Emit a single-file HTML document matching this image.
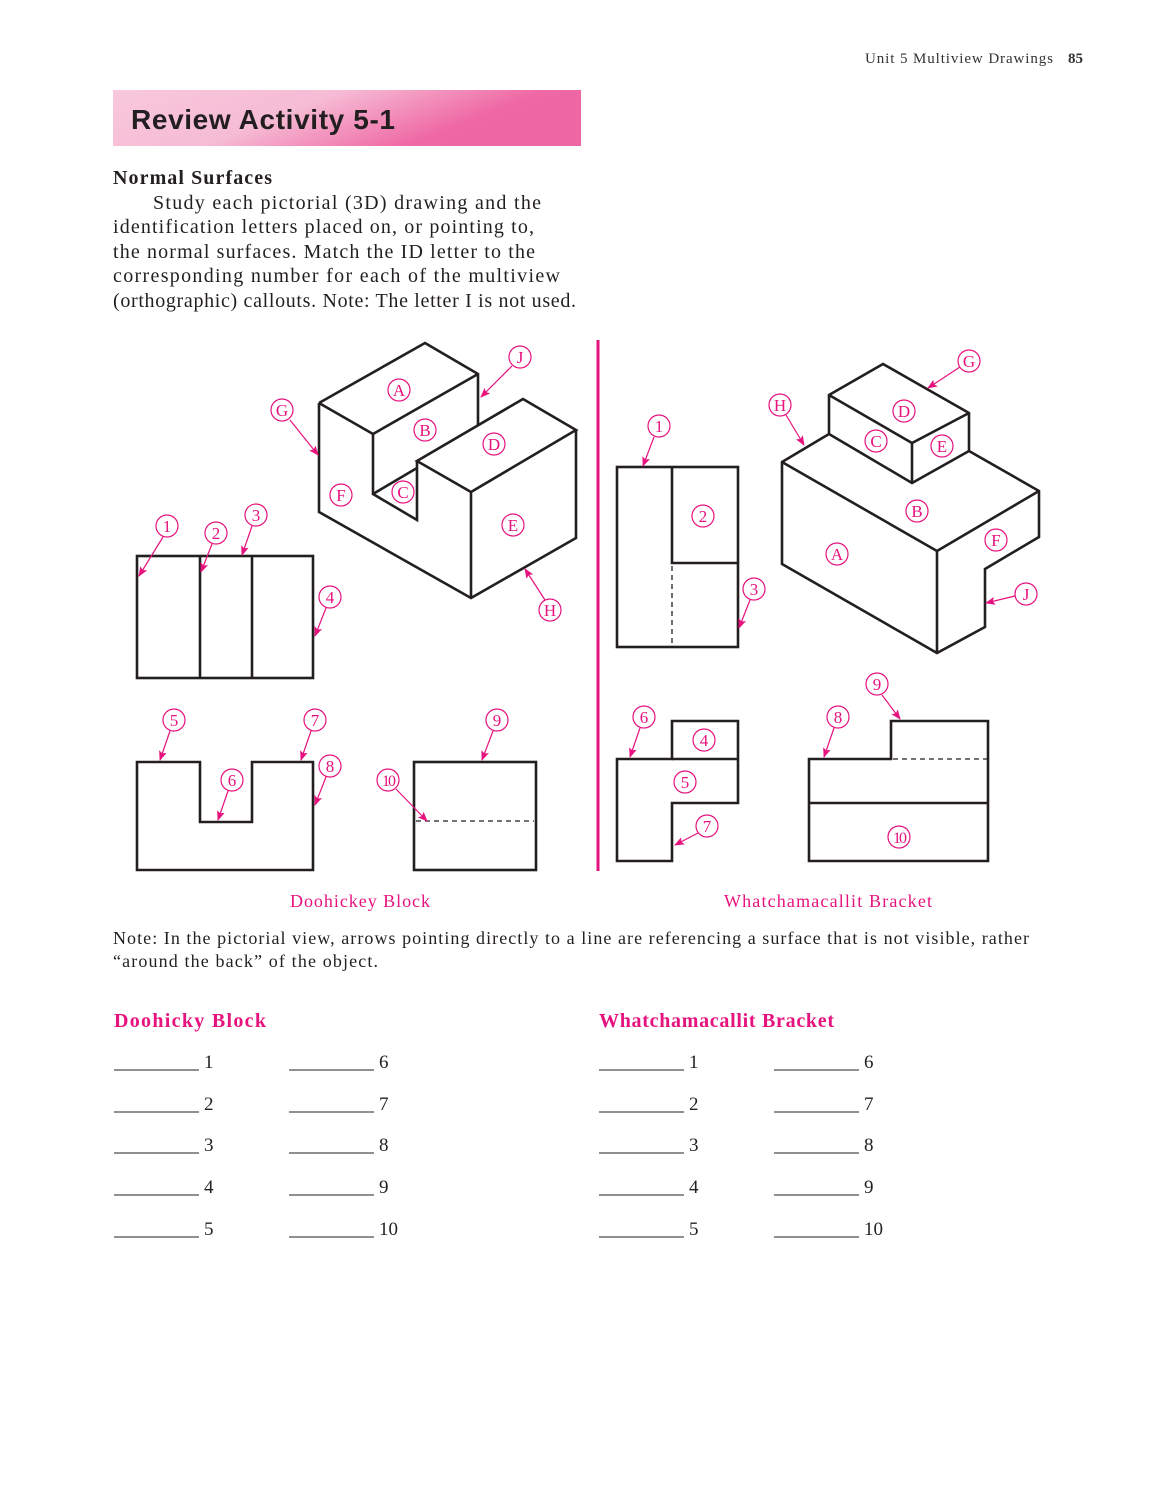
<!DOCTYPE html>
<html><head><meta charset="utf-8"><style>
html,body{margin:0;padding:0;background:#fff}
svg{display:block}
.s{font-family:"Liberation Serif",serif}
.m{fill:#e6127e}
.c{fill:none;stroke:#e6127e;stroke-width:1.2}
.k{fill:none;stroke:#231f20;stroke-width:2.6;stroke-linejoin:miter}
.d{fill:none;stroke:#231f20;stroke-width:1.3;stroke-dasharray:5,4}
.a{stroke:#e6127e;stroke-width:1.2}
.l{font-family:"Liberation Serif",serif;font-size:17px;fill:#e6127e;text-anchor:middle}
</style></head><body>
<svg width="1156" height="1497" viewBox="0 0 1156 1497" xmlns="http://www.w3.org/2000/svg">
<defs>
<linearGradient id="g" x1="0" y1="0" x2="1" y2="0.3">
<stop offset="0" stop-color="#f8c8dc"/><stop offset="0.45" stop-color="#f6bcd5"/><stop offset="0.85" stop-color="#ef68a4"/><stop offset="1" stop-color="#ee66a3"/></linearGradient>
<marker id="ar" markerWidth="10" markerHeight="8" refX="9" refY="4" orient="auto" markerUnits="userSpaceOnUse"><path d="M0,0 L10,4 L0,8 L2,4z" fill="#e6127e"/></marker>
</defs>
<text x="865" y="63" class="s" font-size="15" fill="#333" textLength="188">Unit 5  Multiview Drawings</text>
<text x="1083" y="63" class="s" font-size="15" fill="#333" font-weight="bold" text-anchor="end">85</text>
<rect x="113" y="90" width="468" height="56" fill="url(#g)"/>
<text x="131" y="129" font-family="Liberation Sans,sans-serif" font-weight="bold" font-size="28" fill="#231f20" textLength="264">Review Activity 5-1</text>
<g class="s" font-size="20" fill="#231f20">
<text x="113" y="184" font-weight="bold" textLength="159">Normal Surfaces</text>
<text x="153" y="209" textLength="388">Study each pictorial (3D) drawing and the</text>
<text x="113" y="233" textLength="421">identification letters placed on, or pointing to,</text>
<text x="113" y="258" textLength="422">the normal surfaces. Match the ID letter to the</text>
<text x="113" y="282" textLength="447">corresponding number for each of the multiview</text>
<text x="113" y="307" textLength="463">(orthographic) callouts. Note: The letter I is not used.</text>
</g>
<line x1="598" y1="340" x2="598" y2="871" stroke="#e6127e" stroke-width="3"/>
<g class="k">
<path d="M319,403 L425,343 L478,374 L478,425"/>
<path d="M417,461 L523,399 L576,430 L471,492 Z"/>
<path d="M576,430 L576,538 L471,598 L319,512 L319,403"/>
<path d="M471,492 L471,598"/>
<path d="M319,403 L373,434 L478,374"/>
<path d="M373,434 L373,494 L417,520 L417,461"/>
<path d="M373,494 L417,468"/>
</g>
<g class="k"><rect x="137" y="556" width="176" height="122"/><line x1="200" y1="556" x2="200" y2="678"/><line x1="252" y1="556" x2="252" y2="678"/></g>
<g class="k"><path d="M137,762 L200,762 L200,822 L252,822 L252,762 L313,762 L313,870 L137,870 Z"/><rect x="414" y="762" width="122" height="108"/></g>
<line x1="416" y1="821" x2="534" y2="821" class="d"/>
<g class="k"><rect x="617" y="467" width="121" height="180"/><path d="M672,467 L672,563 L738,563"/></g>
<line x1="672" y1="566" x2="672" y2="646" class="d"/>
<g class="k">
<path d="M782,462 L829,434 L829,395 L883,364 L969,413 L969,451 L1039,491 L1039,537 L985,569 L985,627 L937,653 L782,564 Z"/>
<path d="M782,462 L937,551 L1039,491"/>
<path d="M937,551 L937,653"/>
<path d="M829,395 L912,443 L969,413"/>
<path d="M912,443 L912,483"/>
<path d="M829,434 L912,483 L969,451"/>
</g>
<g class="k">
<path d="M617,759 L672,759 L672,721 L738,721 L738,803 L672,803 L672,861 L617,861 Z"/>
<line x1="672" y1="759" x2="738" y2="759"/>
<path d="M809,759 L891,759 L891,721 L988,721 L988,861 L809,861 Z"/>
<line x1="809" y1="803" x2="988" y2="803"/>
</g>
<line x1="893" y1="759" x2="987" y2="759" class="d"/>
<g class="a" marker-end="url(#ar)">
<line x1="290" y1="420" x2="318" y2="455"/>
<line x1="512" y1="366" x2="481" y2="397"/>
<line x1="545" y1="600" x2="525" y2="569"/>
<line x1="163" y1="537" x2="139" y2="576"/>
<line x1="212" y1="544" x2="201" y2="572"/>
<line x1="252" y1="526" x2="242" y2="555"/>
<line x1="326" y1="608" x2="315" y2="636"/>
<line x1="170" y1="731" x2="160" y2="760"/>
<line x1="311" y1="731" x2="301" y2="760"/>
<line x1="228" y1="791" x2="218" y2="820"/>
<line x1="326" y1="777" x2="315" y2="805"/>
<line x1="493" y1="731" x2="482" y2="760"/>
<line x1="396" y1="789" x2="427" y2="821"/>
<line x1="654" y1="437" x2="643" y2="466"/>
<line x1="750" y1="600" x2="739" y2="628"/>
<line x1="960" y1="367" x2="928" y2="388"/>
<line x1="786" y1="415" x2="804" y2="445"/>
<line x1="1015" y1="596" x2="986" y2="603"/>
<line x1="640" y1="728" x2="630" y2="757"/>
<line x1="698" y1="833" x2="675" y2="845"/>
<line x1="834" y1="728" x2="824" y2="757"/>
<line x1="882" y1="695" x2="900" y2="719"/>
</g>
<g>
<g class="c">
<circle cx="399" cy="390" r="11"/><circle cx="425" cy="430" r="11"/><circle cx="494" cy="444" r="11"/><circle cx="403" cy="492" r="11"/><circle cx="341" cy="495" r="11"/><circle cx="513" cy="525" r="11"/><circle cx="282" cy="410" r="11"/><circle cx="520" cy="357" r="11"/><circle cx="550" cy="610" r="11"/>
<circle cx="167" cy="526" r="11"/><circle cx="216" cy="533" r="11"/><circle cx="256" cy="515" r="11"/><circle cx="330" cy="597" r="11"/>
<circle cx="174" cy="720" r="11"/><circle cx="315" cy="720" r="11"/><circle cx="232" cy="780" r="11"/><circle cx="330" cy="766" r="11"/><circle cx="497" cy="720" r="11"/><circle cx="388" cy="780" r="11"/>
<circle cx="659" cy="426" r="11"/><circle cx="703" cy="516" r="11"/><circle cx="754" cy="589" r="11"/>
<circle cx="969" cy="361" r="11"/><circle cx="780" cy="405" r="11"/><circle cx="904" cy="411" r="11"/><circle cx="876" cy="441" r="11"/><circle cx="942" cy="446" r="11"/><circle cx="917" cy="511" r="11"/><circle cx="837" cy="554" r="11"/><circle cx="996" cy="540" r="11"/><circle cx="1026" cy="594" r="11"/>
<circle cx="644" cy="717" r="11"/><circle cx="704" cy="740" r="11"/><circle cx="685" cy="782" r="11"/><circle cx="707" cy="826" r="11"/><circle cx="838" cy="717" r="11"/><circle cx="877" cy="684" r="11"/><circle cx="899" cy="837" r="11"/>
</g>
<g class="l">
<text x="399" y="396">A</text><text x="425" y="436">B</text><text x="494" y="450">D</text><text x="403" y="498">C</text><text x="341" y="501">F</text><text x="513" y="531">E</text><text x="282" y="416">G</text><text x="520" y="363">J</text><text x="550" y="616">H</text>
<text x="167" y="532">1</text><text x="216" y="539">2</text><text x="256" y="521">3</text><text x="330" y="603">4</text>
<text x="174" y="726">5</text><text x="315" y="726">7</text><text x="232" y="786">6</text><text x="330" y="772">8</text><text x="497" y="726">9</text><text x="388" y="786" font-size="16" letter-spacing="-2">10</text>
<text x="659" y="432">1</text><text x="703" y="522">2</text><text x="754" y="595">3</text>
<text x="969" y="367">G</text><text x="780" y="411">H</text><text x="904" y="417">D</text><text x="876" y="447">C</text><text x="942" y="452">E</text><text x="917" y="517">B</text><text x="837" y="560">A</text><text x="996" y="546">F</text><text x="1026" y="600">J</text>
<text x="644" y="723">6</text><text x="704" y="746">4</text><text x="685" y="788">5</text><text x="707" y="832">7</text><text x="838" y="723">8</text><text x="877" y="690">9</text><text x="899" y="843" font-size="16" letter-spacing="-2">10</text>
</g>
</g>
<g class="s" font-size="18">
<text x="290" y="907" class="m" textLength="140">Doohickey Block</text>
<text x="724" y="907" class="m" textLength="208">Whatchamacallit Bracket</text>
<text x="113" y="944" fill="#231f20" textLength="916">Note: In the pictorial view, arrows pointing directly to a line are referencing a surface that is not visible, rather</text>
<text x="113" y="967" fill="#231f20" textLength="265">“around the back” of the object.</text>
</g>
<g class="s" font-size="20" font-weight="bold">
<text x="114" y="1027" class="m" textLength="152">Doohicky Block</text>
<text x="599" y="1027" class="m" textLength="235">Whatchamacallit Bracket</text>
</g>
<g class="s" font-size="19" fill="#231f20">
<g stroke="#231f20" stroke-width="1">
<line x1="114" y1="1070" x2="199" y2="1070"/><line x1="289" y1="1070" x2="374" y2="1070"/><line x1="599" y1="1070" x2="684" y2="1070"/><line x1="774" y1="1070" x2="859" y2="1070"/>
<line x1="114" y1="1112" x2="199" y2="1112"/><line x1="289" y1="1112" x2="374" y2="1112"/><line x1="599" y1="1112" x2="684" y2="1112"/><line x1="774" y1="1112" x2="859" y2="1112"/>
<line x1="114" y1="1153" x2="199" y2="1153"/><line x1="289" y1="1153" x2="374" y2="1153"/><line x1="599" y1="1153" x2="684" y2="1153"/><line x1="774" y1="1153" x2="859" y2="1153"/>
<line x1="114" y1="1195" x2="199" y2="1195"/><line x1="289" y1="1195" x2="374" y2="1195"/><line x1="599" y1="1195" x2="684" y2="1195"/><line x1="774" y1="1195" x2="859" y2="1195"/>
<line x1="114" y1="1237" x2="199" y2="1237"/><line x1="289" y1="1237" x2="374" y2="1237"/><line x1="599" y1="1237" x2="684" y2="1237"/><line x1="774" y1="1237" x2="859" y2="1237"/>
</g>
<text x="204" y="1068">1</text><text x="379" y="1068">6</text><text x="689" y="1068">1</text><text x="864" y="1068">6</text>
<text x="204" y="1110">2</text><text x="379" y="1110">7</text><text x="689" y="1110">2</text><text x="864" y="1110">7</text>
<text x="204" y="1151">3</text><text x="379" y="1151">8</text><text x="689" y="1151">3</text><text x="864" y="1151">8</text>
<text x="204" y="1193">4</text><text x="379" y="1193">9</text><text x="689" y="1193">4</text><text x="864" y="1193">9</text>
<text x="204" y="1235">5</text><text x="379" y="1235">10</text><text x="689" y="1235">5</text><text x="864" y="1235">10</text>
</g>
</svg>
</body></html>
